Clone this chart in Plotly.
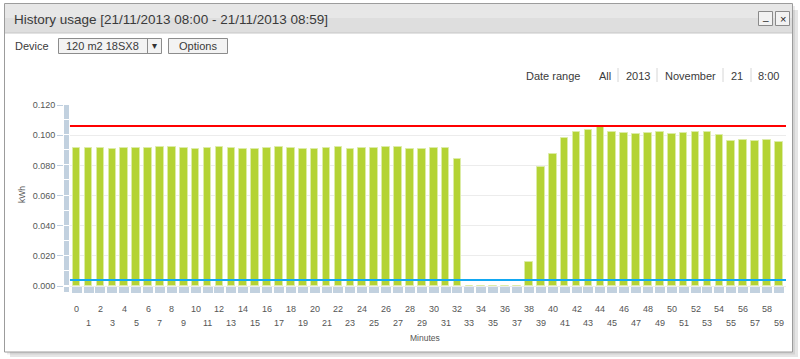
import plotly.graph_objects as go

# ---------------- data ----------------
minutes = list(range(60))
usage_kwh = [
    0.0913, 0.0913, 0.0917, 0.0906, 0.0913, 0.0917, 0.0917, 0.0920, 0.0920, 0.0913,
    0.0908, 0.0913, 0.0924, 0.0913, 0.0906, 0.0908, 0.0917, 0.0924, 0.0917, 0.0908,
    0.0908, 0.0917, 0.0924, 0.0907, 0.0913, 0.0913, 0.0920, 0.0922, 0.0907, 0.0907,
    0.0915, 0.0917, 0.0840, 0.0, 0.0, 0.0, 0.0, 0.0, 0.0159, 0.0791,
    0.0873, 0.0984, 0.1021, 0.1032, 0.1052, 0.1019, 0.1015, 0.1010, 0.1015, 0.1021,
    0.1008, 0.1015, 0.1019, 0.1019, 0.1003, 0.0959, 0.0970, 0.0959, 0.0966, 0.0957,
]
upper_limit = 0.106
lower_limit = 0.004
y_tick_vals = [0.0, 0.02, 0.04, 0.06, 0.08, 0.10, 0.12]
y_tick_text = ["0.000", "0.020", "0.040", "0.060", "0.080", "0.100", "0.120"]
x_tick_text = [str(m) for m in minutes]
frame_segment_bases = [0.00, 0.01, 0.02, 0.03, 0.04, 0.05, 0.06, 0.07, 0.08, 0.09, 0.10, 0.11]
frame_floor_depth = 0.0046

title_text = "History usage [21/11/2013 08:00 - 21/11/2013 08:59]"
device_label = "Device"
device_value = "120 m2 18SX8"
options_label = "Options"
date_range_label = "Date range"
date_range_items = ["All", "2013", "November", "21", "8:00"]
x_axis_title = "Minutes"
y_axis_title = "kWh"

# ---------------- geometry helpers ----------------
W, H = 800, 359
ML, MR, MT, MB = 64, 14, 105, 66
PW, PH = W - ML - MR, H - MT - MB
X_MIN, X_MAX = -1.06, 59.6
Y_MIN, Y_MAX = -frame_floor_depth, 0.12


def px(xp):
    return (xp - ML) / PW


def py(yp):
    return (H - MB - yp) / PH


FONT = "Liberation Sans, Arial, sans-serif"
GREEN = "#b4d334"
FRAME = "#c2d1df"

fig = go.Figure()

# frame floor blocks
fig.add_trace(go.Bar(
    x=minutes, y=[frame_floor_depth - 0.0003] * len(minutes), base=-frame_floor_depth,
    width=0.84, marker=dict(color=FRAME, line=dict(width=0)), hoverinfo="skip",
))
# frame left side
fig.add_trace(go.Bar(
    x=[-0.806] * (len(frame_segment_bases) + 1),
    y=[0.01] * len(frame_segment_bases) + [frame_floor_depth - 0.0003],
    base=frame_segment_bases + [-frame_floor_depth],
    width=0.50, marker=dict(color=FRAME, line=dict(color="white", width=1)),
    hoverinfo="skip",
))
# usage bars
fig.add_trace(go.Bar(
    x=minutes, y=usage_kwh, width=0.64,
    marker=dict(color=GREEN, line=dict(color="#dcecA6", width=1)),
    hoverinfo="skip",
))
# limit lines
fig.add_trace(go.Scatter(
    x=[-0.56, X_MAX + 0.08], y=[upper_limit, upper_limit], mode="lines",
    line=dict(color="#ff0000", width=2), cliponaxis=False, hoverinfo="skip",
))
fig.add_trace(go.Scatter(
    x=[-0.56, X_MAX], y=[lower_limit, lower_limit], mode="lines",
    line=dict(color="#12a8f2", width=2), cliponaxis=False, hoverinfo="skip",
))

shapes = []
# shadow
shapes.append(dict(type="rect", xref="paper", yref="paper", x0=px(10), x1=px(798), y0=py(357), y1=py(10),
                   fillcolor="rgba(0,0,0,0.10)", line=dict(width=0), layer="below"))
shapes.append(dict(type="rect", xref="paper", yref="paper", x0=px(7), x1=px(795), y0=py(354.5), y1=py(6),
                   fillcolor="rgba(0,0,0,0.08)", line=dict(width=0), layer="below"))
# panel
shapes.append(dict(type="rect", xref="paper", yref="paper", x0=px(4.5), x1=px(792.5), y0=py(352), y1=py(3.5),
                   fillcolor="white", line=dict(color="#9c9c9c", width=1), layer="below"))
# title bar
shapes.append(dict(type="rect", xref="paper", yref="paper", x0=px(5), x1=px(792), y0=py(33), y1=py(4),
                   fillcolor="#dedede", line=dict(width=0), layer="below"))
shapes.append(dict(type="rect", xref="paper", yref="paper", x0=px(5), x1=px(792), y0=py(18), y1=py(4),
                   fillcolor="#e7e7e7", line=dict(width=0), layer="below"))
shapes.append(dict(type="line", xref="paper", yref="paper", x0=px(5), x1=px(792), y0=py(33), y1=py(33),
                   line=dict(color="#c6c6c6", width=1), layer="below"))
# window buttons
for bx0, bx1 in [(758.5, 772.5), (775.5, 789.5)]:
    shapes.append(dict(type="rect", xref="paper", yref="paper", x0=px(bx0), x1=px(bx1), y0=py(25.5), y1=py(11.5),
                       fillcolor="#f2f2f2", line=dict(color="#8a8a8a", width=1), layer="below"))
# device dropdown
shapes.append(dict(type="rect", xref="paper", yref="paper", x0=px(58.5), x1=px(161.5), y0=py(53.5), y1=py(38.5),
                   fillcolor="#f3f3f3", line=dict(color="#8c8c8c", width=1), layer="below"))
shapes.append(dict(type="line", xref="paper", yref="paper", x0=px(147.5), x1=px(147.5), y0=py(53.5), y1=py(38.5),
                   line=dict(color="#8c8c8c", width=1), layer="below"))
# options button
shapes.append(dict(type="rect", xref="paper", yref="paper", x0=px(168.5), x1=px(227.5), y0=py(53.5), y1=py(38.5),
                   fillcolor="#f3f3f3", line=dict(color="#8c8c8c", width=1), layer="below"))
# date range separators
for sx in [618, 657, 723, 751]:
    shapes.append(dict(type="line", xref="paper", yref="paper", x0=px(sx), x1=px(sx), y0=py(82), y1=py(68),
                       line=dict(color="#d6d6d6", width=1), layer="below"))

annotations = []


def text(t, xp, yp, size=11, color="#333", xanchor="left", yanchor="middle", angle=0):
    annotations.append(dict(text=t, x=px(xp), y=py(yp), xref="paper", yref="paper", showarrow=False,
                            xanchor=xanchor, yanchor=yanchor, textangle=angle,
                            font=dict(family=FONT, size=size, color=color)))


text(title_text, 12, 19, size=13.5, color="#3a3a3a")
text("_", 765.5, 16, size=10, color="#222", xanchor="center")
text("×", 782.5, 18.5, size=11, color="#222", xanchor="center")
text(device_label, 13, 46, size=11, color="#3a3a3a")
text(device_value, 102, 46, size=11, color="#3a3a3a", xanchor="center")
text("▾", 154.5, 45.5, size=10, color="#333", xanchor="center")
text(options_label, 198, 46, size=11, color="#3a3a3a", xanchor="center")
text(date_range_label, 582, 75.5, size=11, color="#3a3a3a", xanchor="right")
for label, cx in zip(date_range_items, [604.5, 638, 690, 737, 768.5]):
    text(label, cx, 75.5, size=11, color="#3a3a3a", xanchor="center")

# x tick labels (staggered)
for m, lab in zip(minutes, x_tick_text):
    annotations.append(dict(text=lab, x=m, y=py(309 if m % 2 == 0 else 323), xref="x", yref="paper",
                            showarrow=False, xanchor="center", yanchor="middle",
                            font=dict(family=FONT, size=9, color="#555")))
text(x_axis_title, 425, 338, size=8.5, color="#555", xanchor="center")
text(y_axis_title, 22, 195, size=8.5, color="#555", xanchor="center", angle=-90)

fig.update_layout(
    width=W, height=H,
    margin=dict(l=ML, r=MR, t=MT, b=MB, pad=0),
    paper_bgcolor="white", plot_bgcolor="rgba(0,0,0,0)",
    barmode="overlay", bargap=0, showlegend=False,
    shapes=shapes, annotations=annotations,
    xaxis=dict(range=[X_MIN, X_MAX], showgrid=False, zeroline=False, showticklabels=False,
               ticks="", showline=False, fixedrange=True),
    yaxis=dict(range=[Y_MIN, Y_MAX], tickvals=y_tick_vals, ticktext=y_tick_text,
               showgrid=True, gridcolor="#ececec", gridwidth=1, zeroline=False,
               ticks="outside", ticklen=6, tickcolor="#c0d0e0", showline=False,
               tickfont=dict(family=FONT, size=9, color="#555"), fixedrange=True),
    font=dict(family=FONT),
)

fig.write_html(
    "out.html",
    config={"displayModeBar": False},
    post_script="document.body.style.margin='0';document.body.style.overflow='hidden';",
)
